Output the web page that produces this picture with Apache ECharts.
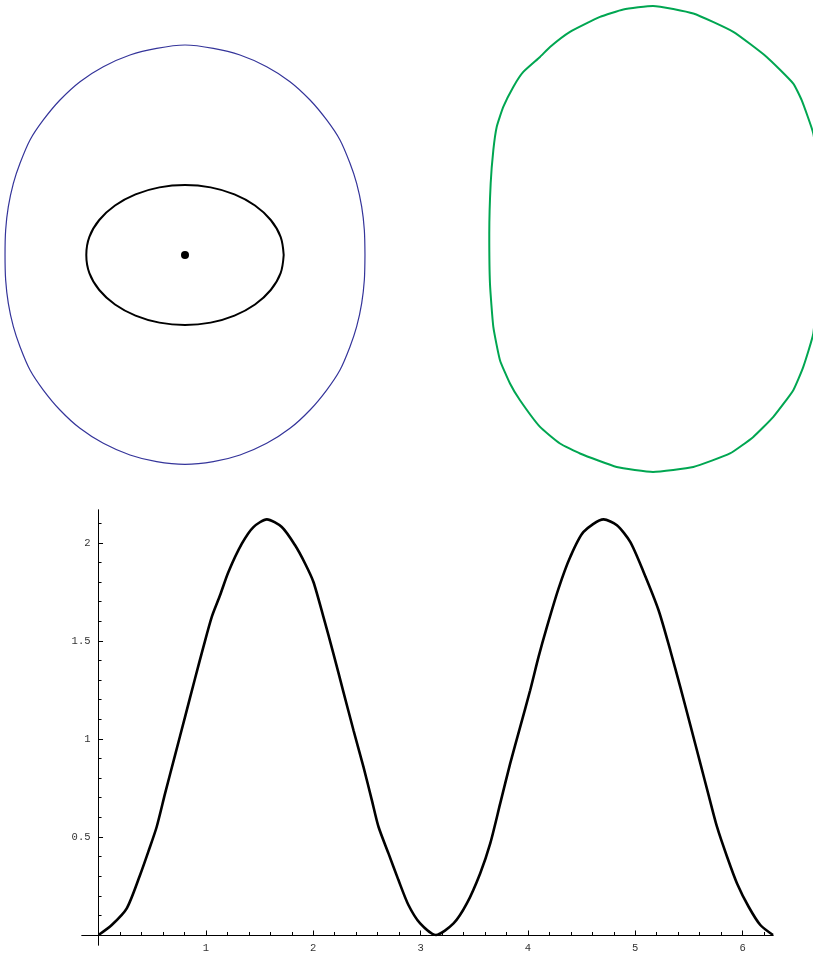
<!DOCTYPE html>
<html>
<head>
<meta charset="utf-8">
<script src="https://cdn.jsdelivr.net/npm/echarts@6/dist/echarts.min.js"></script>
<style>
html,body{margin:0;padding:0;background:#fff;}
#c{width:813px;height:956px;}
</style>
</head>
<body>
<div id="c"></div>
<script>
// ---- top-left: outer blue closed curve (units: inner ellipse semi-minor axis = 1)
var blueX = [2.571, 2.562, 2.524, 2.452, 2.357, 2.214, 2.024, 1.786, 1.5, 1.167, 0.786, 0.405, 0,
  -0.405, -0.786, -1.167, -1.5, -1.786, -2.024, -2.214, -2.357, -2.452, -2.524, -2.562, -2.571,
  -2.562, -2.524, -2.452, -2.357, -2.214, -2.024, -1.786, -1.5, -1.167, -0.786, -0.405, 0,
  0.405, 0.786, 1.167, 1.5, 1.786, 2.024, 2.214, 2.357, 2.452, 2.524, 2.562, 2.571];
var blueY = [0, 0.357, 0.69, 1.024, 1.31, 1.643, 1.929, 2.214, 2.476, 2.69, 2.857, 2.952, 3.0,
  2.952, 2.857, 2.69, 2.476, 2.214, 1.929, 1.643, 1.31, 1.024, 0.69, 0.357, 0,
  -0.357, -0.69, -1.024, -1.31, -1.643, -1.929, -2.214, -2.476, -2.69, -2.857, -2.952, -2.99,
  -2.952, -2.857, -2.69, -2.476, -2.214, -1.929, -1.643, -1.31, -1.024, -0.69, -0.357, 0];
// ---- top-left: inner black ellipse
var ellipseX = [1.41, 1.366, 1.225, 1.0, 0.707, 0.366, 0, -0.366, -0.707, -1.0, -1.225, -1.366, -1.41,
  -1.366, -1.225, -1.0, -0.707, -0.366, 0, 0.366, 0.707, 1.0, 1.225, 1.366, 1.41];
var ellipseY = [0, 0.259, 0.5, 0.707, 0.866, 0.966, 1, 0.966, 0.866, 0.707, 0.5, 0.259, 0,
  -0.259, -0.5, -0.707, -0.866, -0.966, -1, -0.966, -0.866, -0.707, -0.5, -0.259, 0];
var centerPoint = [0, 0];
// ---- top-right: green closed curve
var greenX = [2.36, 2.35, 2.29, 2.147, 2.004, 1.719, 1.433, 1.1, 0.576, 0,
  -0.519, -1.043, -1.329, -1.614, -1.9, -2.043, -2.186, -2.281, -2.329, -2.339, -2.319, -2.281, -2.233, -2.139, -1.996, -1.853,
  -1.614, -1.471, -1.186, -0.757, -0.424, 0, 0.576, 1.147, 1.624, 2.004, 2.124, 2.29, 2.35, 2.36];
var greenY = [0.2, -0.6, -1.35, -1.827, -2.16, -2.541, -2.827, -3.064, -3.256, -3.327,
  -3.256, -3.064, -2.921, -2.684, -2.303, -2.064, -1.731, -1.256, -0.636, 0.079, 0.793, 1.269, 1.601, 1.887, 2.173, 2.387,
  2.601, 2.744, 2.959, 3.173, 3.279, 3.33, 3.221, 2.959, 2.601, 2.221, 1.983, 1.507, 1.0, 0.2];
// ---- bottom plot
var curveX = [0, 0.123, 0.263, 0.387, 0.464, 0.542, 0.620, 0.713, 0.806, 0.899, 0.977, 1.055, 1.132, 1.210, 1.335, 1.443, 1.568,
  1.707, 1.831, 1.925, 2.002, 2.095, 2.188, 2.281, 2.375, 2.468, 2.546, 2.608, 2.701, 2.794, 2.887, 2.996, 3.142,
  3.307, 3.431, 3.555, 3.649, 3.742, 3.835, 3.928, 4.021, 4.099, 4.177, 4.285, 4.394, 4.518, 4.705,
  4.829, 4.953, 5.077, 5.217, 5.326, 5.419, 5.513, 5.606, 5.683, 5.761, 5.855, 5.948, 6.056, 6.165, 6.283];
var curveY = [0, 0.051, 0.136, 0.306, 0.425, 0.552, 0.722, 0.917, 1.112, 1.308, 1.469, 1.622, 1.732, 1.851, 1.995, 2.080, 2.119,
  2.080, 1.987, 1.893, 1.800, 1.622, 1.435, 1.240, 1.044, 0.857, 0.688, 0.552, 0.416, 0.280, 0.153, 0.059, 0,
  0.059, 0.161, 0.314, 0.467, 0.671, 0.875, 1.061, 1.248, 1.418, 1.571, 1.766, 1.927, 2.055, 2.119,
  2.089, 2.004, 1.851, 1.656, 1.452, 1.265, 1.070, 0.875, 0.713, 0.552, 0.399, 0.263, 0.144, 0.051, 0];
var xMajorTicks = [1, 2, 3, 4, 5, 6];
var xMinorTicks = [0.2, 0.4, 0.6, 0.8, 1.2, 1.4, 1.6, 1.8, 2.2, 2.4, 2.6, 2.8, 3.2, 3.4, 3.6, 3.8,
  4.2, 4.4, 4.6, 4.8, 5.2, 5.4, 5.6, 5.8, 6.2];
var yMajorTicks = [0.5, 1, 1.5, 2];
var yMinorTicks = [0.1, 0.2, 0.3, 0.4, 0.6, 0.7, 0.8, 0.9, 1.1, 1.2, 1.3, 1.4, 1.6, 1.7, 1.8, 1.9, 2.1];

function pairs(xs, ys) { return xs.map(function (x, i) { return [x, ys[i]]; }); }

var labelFont = { fontFamily: 'Liberation Mono', fontSize: 10.5, color: '#333' };
var black = '#000';

var chart = echarts.init(document.getElementById('c'), null, { renderer: 'canvas' });
chart.setOption({
  animation: false,
  backgroundColor: '#fff',
  grid: [
    { left: 3, top: 38, width: 364, height: 434, outerBoundsMode: 'none', containLabel: false },
    { left: 485, top: 1, width: 336, height: 476, outerBoundsMode: 'none', containLabel: false },
    { left: 82, top: 510, width: 691, height: 435, outerBoundsMode: 'none', containLabel: false }
  ],
  xAxis: [
    { type: 'value', gridIndex: 0, min: -2.6, max: 2.6, show: false },
    { type: 'value', gridIndex: 1, min: -2.4, max: 2.4, show: false },
    { type: 'value', gridIndex: 2, min: -0.154, max: 6.283, position: 'bottom',
      axisLine: { onZero: true, lineStyle: { color: black, width: 1 } },
      axisTick: { inside: true, length: 4.5, customValues: xMajorTicks, lineStyle: { color: black, width: 1 } },
      axisLabel: Object.assign({ customValues: xMajorTicks, margin: -2 }, labelFont),
      splitLine: { show: false } },
    { type: 'value', gridIndex: 2, min: -0.154, max: 6.283, position: 'bottom',
      axisLine: { onZero: true, lineStyle: { color: black, width: 1 } },
      axisTick: { inside: true, length: 3, customValues: xMinorTicks, lineStyle: { color: black, width: 1 } },
      axisLabel: { show: false },
      splitLine: { show: false } }
  ],
  yAxis: [
    { type: 'value', gridIndex: 0, min: -3.1, max: 3.1, show: false },
    { type: 'value', gridIndex: 1, min: -3.4, max: 3.4, show: false },
    { type: 'value', gridIndex: 2, min: -0.051, max: 2.167, position: 'left',
      axisLine: { onZero: true, lineStyle: { color: black, width: 1 } },
      axisTick: { inside: true, length: 4.5, customValues: yMajorTicks, lineStyle: { color: black, width: 1 } },
      axisLabel: Object.assign({ customValues: yMajorTicks, margin: -8.5 }, labelFont),
      splitLine: { show: false } },
    { type: 'value', gridIndex: 2, min: -0.051, max: 2.167, position: 'left',
      axisLine: { onZero: true, lineStyle: { color: black, width: 1 } },
      axisTick: { inside: true, length: 3, customValues: yMinorTicks, lineStyle: { color: black, width: 1 } },
      axisLabel: { show: false },
      splitLine: { show: false } }
  ],
  series: [
    { type: 'line', xAxisIndex: 0, yAxisIndex: 0, data: pairs(blueX, blueY), showSymbol: false, smooth: 0.3,
      lineStyle: { color: '#34349a', width: 1.2 }, silent: true },
    { type: 'line', xAxisIndex: 0, yAxisIndex: 0, data: pairs(ellipseX, ellipseY), showSymbol: false, smooth: 0.35,
      lineStyle: { color: '#000', width: 2 }, silent: true },
    { type: 'scatter', xAxisIndex: 0, yAxisIndex: 0, data: [centerPoint], symbolSize: 8,
      itemStyle: { color: '#000', opacity: 1 }, silent: true },
    { type: 'line', xAxisIndex: 1, yAxisIndex: 1, data: pairs(greenX, greenY), showSymbol: false, smooth: 0.15, clip: false,
      lineStyle: { color: '#00a651', width: 2 }, silent: true },
    { type: 'line', xAxisIndex: 2, yAxisIndex: 2, data: pairs(curveX, curveY), showSymbol: false, smooth: 0.25,
      lineStyle: { color: '#000', width: 2.6 }, silent: true }
  ]
});
</script>
</body>
</html>
